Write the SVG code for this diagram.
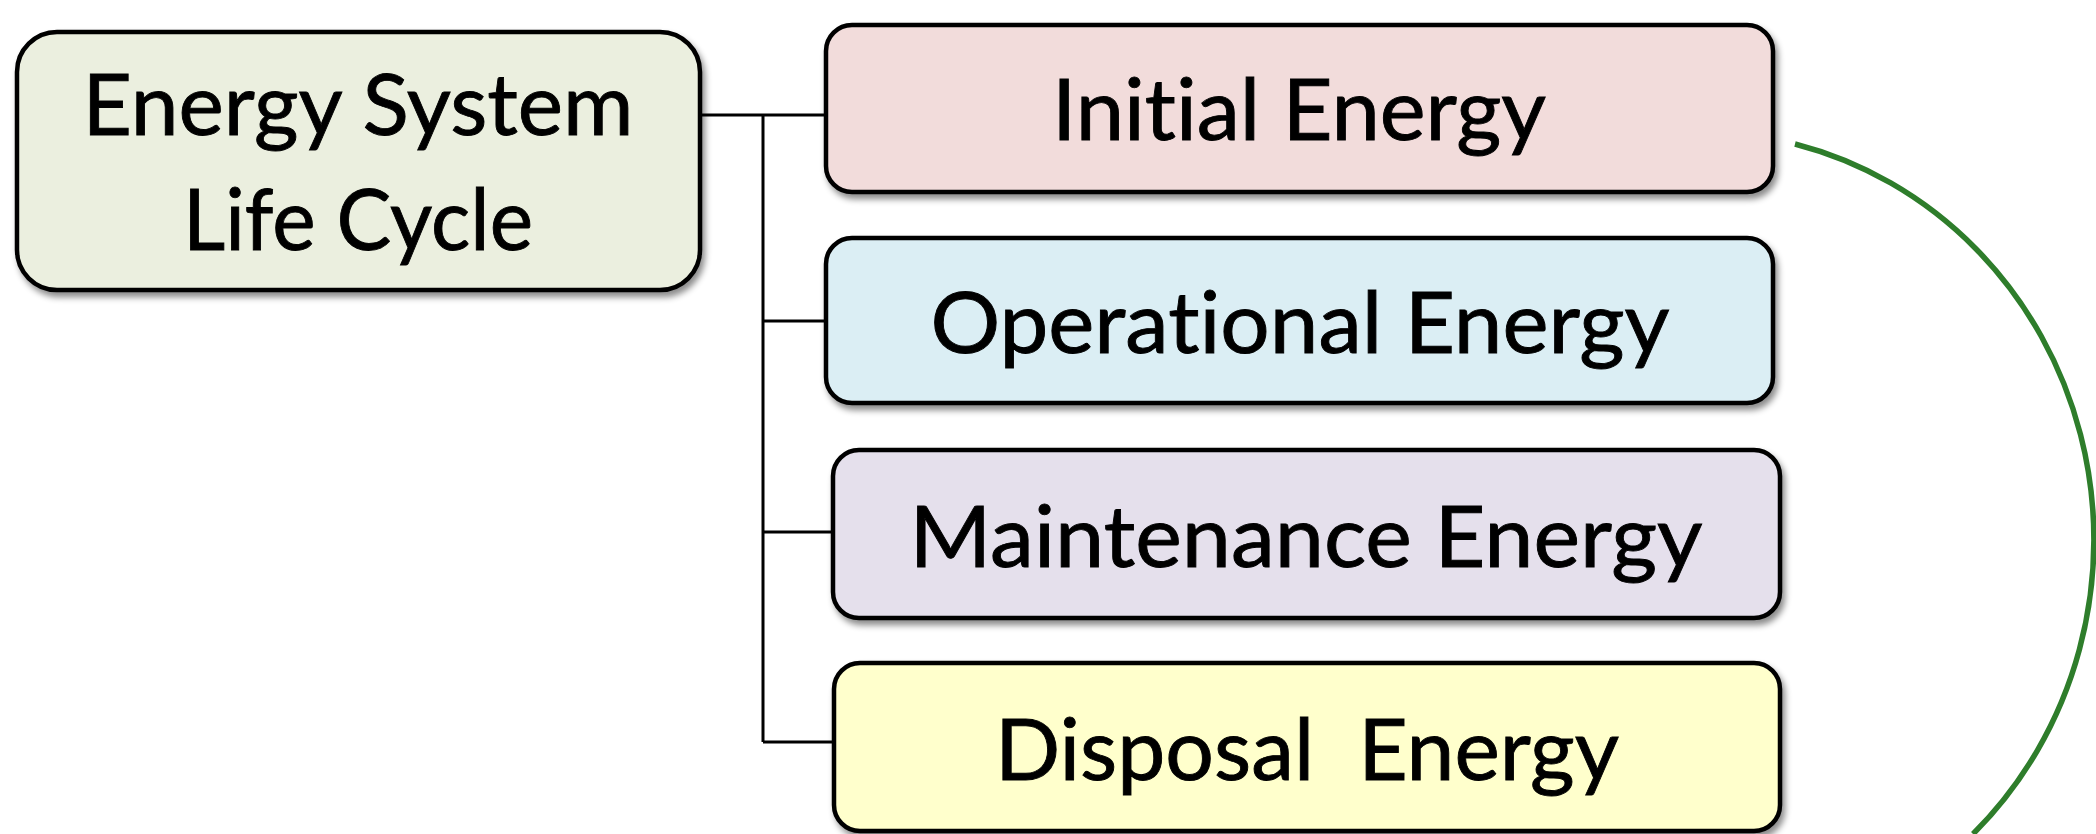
<svg xmlns="http://www.w3.org/2000/svg" width="2096" height="834" viewBox="0 0 2096 834">
<style>
.box{stroke:#000;stroke-width:4.5;filter:url(#sh)}
.lbl{font-family:Lato,"Open Sans","Liberation Sans",sans-serif;font-size:86px;fill:#000;stroke:#000;stroke-width:0.9;text-anchor:middle;white-space:pre;font-variant-ligatures:none}
.con{stroke:#000;stroke-width:3;fill:none}
</style>
<defs>
<filter id="sh" x="-10%" y="-10%" width="120%" height="130%">
<feDropShadow dx="3" dy="5" stdDeviation="3" flood-color="#000" flood-opacity="0.45"/>
</filter>
</defs>
<rect width="2096" height="834" fill="#fff"/>
<g id="connectors">
<path class="con" d="M700,115 H826 M763,115 V742 M763,321 H826 M763,532 H833 M763,742 H834"/>
<path d="M1795,144 A394,408 0 0 1 1973,834" fill="none" stroke="#2e7d2b" stroke-width="5.5"/>
</g>
<g id="root">
<rect class="box" x="17" y="32" width="683" height="258" rx="40" fill="#ebefdf"/>
<text class="lbl" x="358" y="135" textLength="551" lengthAdjust="spacingAndGlyphs">Energy System</text>
<text class="lbl" x="358" y="250" textLength="350" lengthAdjust="spacingAndGlyphs">Life Cycle</text>
</g>
<g id="initial">
<rect class="box" x="826" y="25" width="947" height="167" rx="26" fill="#f2dcdb"/>
<text class="lbl" x="1299" y="140" textLength="494" lengthAdjust="spacingAndGlyphs">Initial Energy</text>
</g>
<g id="operational">
<rect class="box" x="826" y="238" width="947" height="165" rx="26" fill="#dbeef4"/>
<text class="lbl" x="1300" y="353" textLength="739" lengthAdjust="spacingAndGlyphs">Operational Energy</text>
</g>
<g id="maintenance">
<rect class="box" x="833" y="450" width="947" height="168" rx="26" fill="#e5e0ec"/>
<text class="lbl" x="1306" y="567" textLength="793" lengthAdjust="spacingAndGlyphs">Maintenance Energy</text>
</g>
<g id="disposal">
<rect class="box" x="834" y="663" width="946" height="168" rx="26" fill="#ffffcc"/>
<text class="lbl" x="1307" y="780" textLength="624" lengthAdjust="spacingAndGlyphs" xml:space="preserve">Disposal  Energy</text>
</g>
</svg>
